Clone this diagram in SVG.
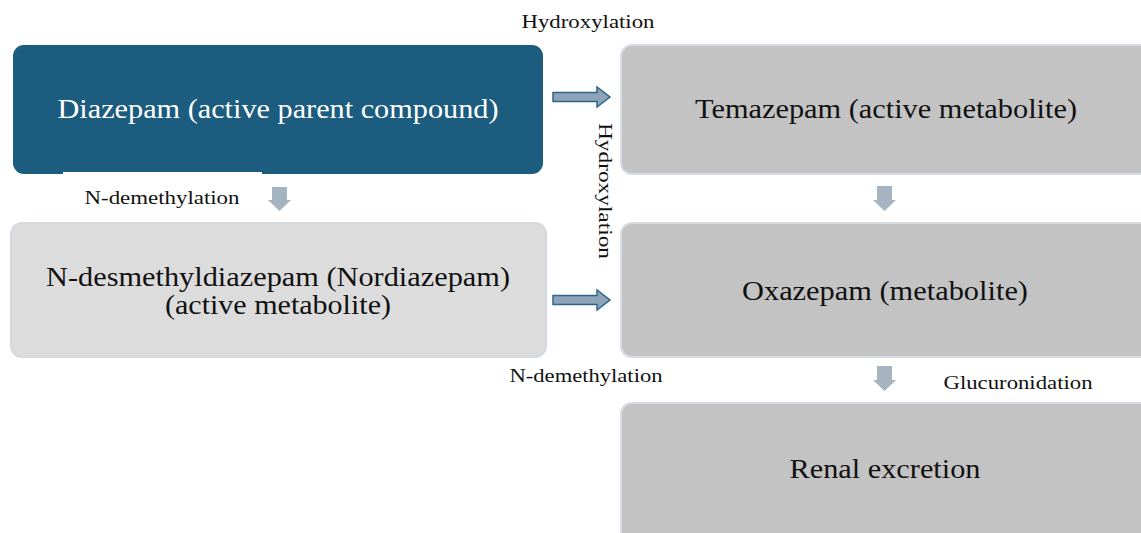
<svg xmlns="http://www.w3.org/2000/svg" width="1141" height="533" viewBox="0 0 1141 533">
<style>
.main{font-family:"Liberation Serif","Times New Roman",serif;font-size:27px;text-anchor:middle;fill:#111}
.lbl{font-family:"Liberation Serif","Times New Roman",serif;font-size:19px;text-anchor:middle;fill:#111}
.gray{fill:#c3c3c3;stroke:#d6dce2;stroke-width:2}
.light{fill:#dcdcdc;stroke:#d3d9df;stroke-width:2}
.down{fill:#a6b3c1}
.right{fill:#8ea3b8;stroke:#2b668a;stroke-width:1.5}
</style>
<rect width="1141" height="533" fill="#fff"/>
<g id="diazepam">
<rect x="13" y="45" width="530" height="129" rx="11" fill="#1b5c7f"/>
<text class="main" x="278" y="118" style="fill:#fff" textLength="441" lengthAdjust="spacingAndGlyphs">Diazepam (active parent compound)</text>
</g>
<g id="nordiazepam">
<rect class="light" x="11" y="223" width="535" height="134" rx="11"/>
<text class="main" x="278" y="286" textLength="464" lengthAdjust="spacingAndGlyphs">N-desmethyldiazepam (Nordiazepam)</text>
<text class="main" x="278" y="314" textLength="226" lengthAdjust="spacingAndGlyphs">(active metabolite)</text>
</g>
<g id="temazepam">
<rect class="gray" x="621" y="45" width="540" height="129" rx="11"/>
<text class="main" x="886" y="118" textLength="382" lengthAdjust="spacingAndGlyphs">Temazepam (active metabolite)</text>
</g>
<g id="oxazepam">
<rect class="gray" x="621" y="223" width="540" height="134" rx="11"/>
<text class="main" x="885" y="300" textLength="286" lengthAdjust="spacingAndGlyphs">Oxazepam (metabolite)</text>
</g>
<g id="renal">
<rect class="gray" x="621" y="403" width="540" height="150" rx="11"/>
<text class="main" x="885" y="478" textLength="191" lengthAdjust="spacingAndGlyphs">Renal excretion</text>
</g>
<g id="connectors">
<rect x="63" y="172" width="199" height="50" fill="#fff"/>
<text class="lbl" x="162" y="204" textLength="155" lengthAdjust="spacingAndGlyphs">N-demethylation</text>
<path class="down" d="M272,187 H287 V200 H291 L279.5,211 L268,200 H272 Z"/>
<path class="right" d="M553,92.5 H597 V87 L610,97 L597,107 V101.5 H553 Z"/>
<text class="lbl" x="588" y="28" textLength="133" lengthAdjust="spacingAndGlyphs">Hydroxylation</text>
<text class="lbl" transform="translate(599,191) rotate(90)" x="0" y="0" textLength="136" lengthAdjust="spacingAndGlyphs">Hydroxylation</text>
<path class="down" d="M877,186 H892 V200 H896 L884.5,211 L873,200 H877 Z"/>
<path class="right" d="M553,295.5 H597 V290 L610,300 L597,310 V304.5 H553 Z"/>
<text class="lbl" x="586" y="382" textLength="153" lengthAdjust="spacingAndGlyphs">N-demethylation</text>
<rect x="922" y="358" width="195" height="43" fill="#fff"/>
<path class="down" d="M877,366 H892 V380 H896 L884.5,391 L873,380 H877 Z"/>
<text class="lbl" x="1018" y="389" textLength="149" lengthAdjust="spacingAndGlyphs">Glucuronidation</text>
</g>
</svg>
